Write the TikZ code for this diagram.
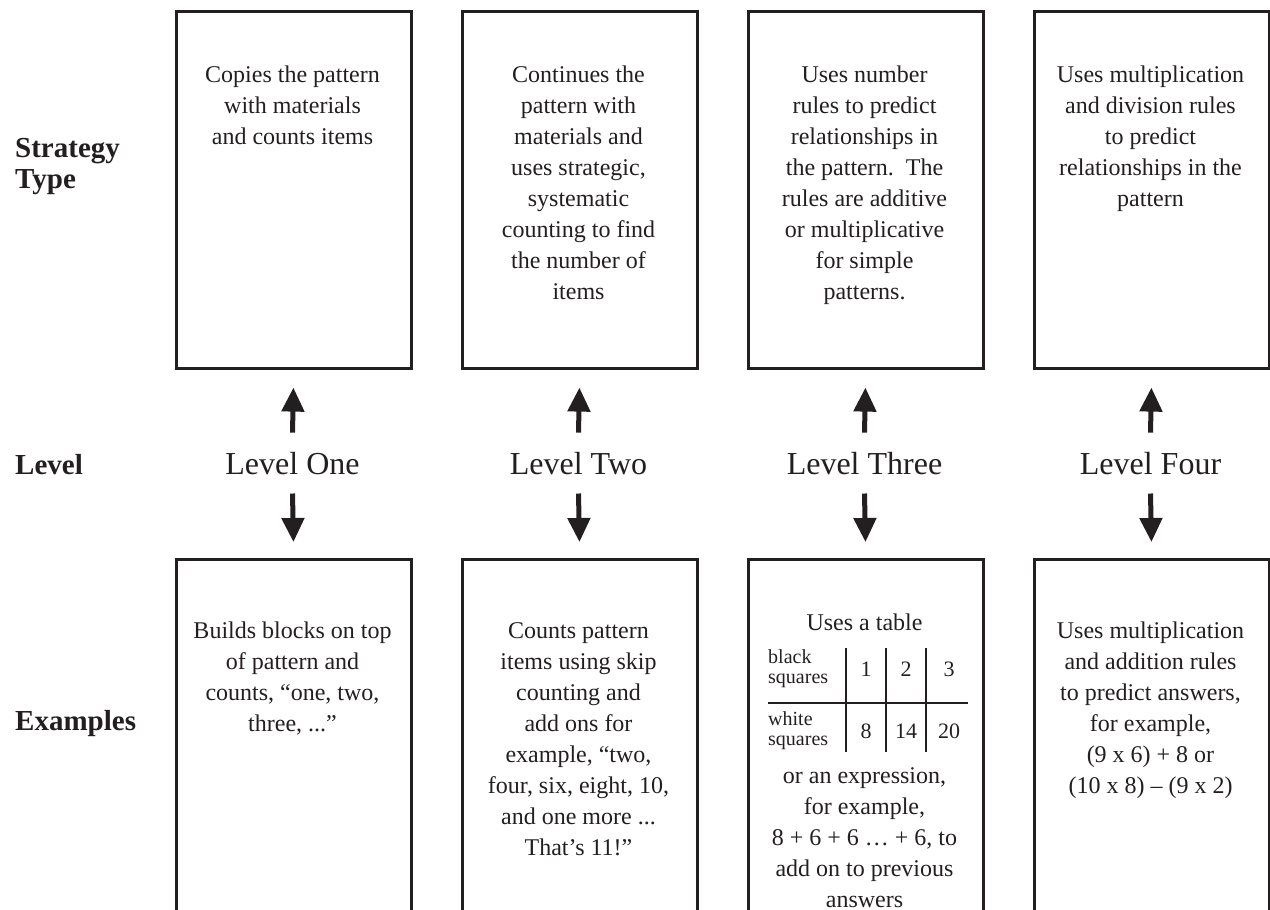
\documentclass[tikz,border=0pt]{standalone}
\usepackage{fontspec}
\setmainfont{Liberation Serif}
\usetikzlibrary{arrows.meta}
\definecolor{ink}{HTML}{231F20}
\begin{document}
\begin{tikzpicture}[x=1pt,y=-1pt,
  card/.style={draw=ink, line width=2.6pt, minimum width=235pt, inner sep=0pt, anchor=north west},
  topcard/.style={card, minimum height=357pt},
  botcard/.style={card, minimum height=400pt},
  body/.style={text=ink, align=center, anchor=base, inner sep=0pt, font=\fontsize{24}{31}\selectfont},
  lvltext/.style={text=ink, anchor=base, inner sep=0pt, font=\fontsize{32}{38}\selectfont},
  head/.style={text=ink, anchor=base west, align=left, inner sep=0pt, font=\bfseries\fontsize{29}{31}\selectfont},
  small/.style={text=ink, anchor=base west, align=left, inner sep=0pt, font=\fontsize{20}{20}\selectfont},
  num/.style={text=ink, anchor=base, inner sep=0pt, font=\fontsize{22}{26}\selectfont},
  arr/.style={draw=ink, line width=5pt, -{Triangle[width=22pt,length=24pt]}},
  rule/.style={draw=ink, line width=1.2pt}
]
\useasboundingbox (0,0) rectangle (1270,910);
\clip (0,0) rectangle (1270,910);

% row headings (base anchor = baseline of last line)
\node[head] (hStrategy) at (15,188) {Strategy\\Type};
\node[head] (hLevel) at (15,474) {Level};
\node[head] (hExamples) at (15,730) {Examples};

% top boxes
\node[topcard] (top1) at (175,10) {};
\node[topcard] (top2) at (461,10) {};
\node[topcard] (top3) at (747,10) {};
\node[topcard] (top4) at (1033,10) {};

\node[body] (tt1) at (292.5,144) {Copies the pattern\\with materials\\and counts items};
\node[body] (tt2) at (578.5,299) {Continues the\\pattern with\\materials and\\uses strategic,\\systematic\\counting to find\\the number of\\items};
\node[body] (tt3) at (864.5,299) {Uses number\\rules to predict\\relationships in\\the pattern.\ \ The\\rules are additive\\or multiplicative\\for simple\\patterns.};
\node[body] (tt4) at (1150.5,206) {Uses multiplication\\and division rules\\to predict\\relationships in the\\pattern};

% levels
\node[lvltext] (lvl1) at (292.5,474) {Level One};
\node[lvltext] (lvl2) at (578.5,474) {Level Two};
\node[lvltext] (lvl3) at (864.5,474) {Level Three};
\node[lvltext] (lvl4) at (1150.5,474) {Level Four};

% bottom boxes
\node[botcard] (bot1) at (175,558) {};
\node[botcard] (bot2) at (461,558) {};
\node[botcard] (bot3) at (747,558) {};
\node[botcard] (bot4) at (1033,558) {};

% arrows
\foreach \i in {1,2,3,4}{
  \draw[arr, shorten >=18pt] ([yshift=19pt]lvl\i.north) -- (top\i.south);
  \draw[arr, shorten >=16pt] ([yshift=-19pt]lvl\i.south) -- (bot\i.north);
}

% bottom texts
\node[body] (bt1) at (292.5,731) {Builds blocks on top\\of pattern and\\counts, “one, two,\\three, ...”};
\node[body] (bt2) at (578.5,855) {Counts pattern\\items using skip\\counting and\\add ons for\\example, “two,\\four, six, eight, 10,\\and one more ...\\That’s 11!”};
\node[body] (bt4) at (1150.5,793) {Uses multiplication\\and addition rules\\to predict answers,\\for example,\\(9 x 6) + 8 or\\(10 x 8) – (9 x 2)};

% level three example with table
\node[body] (bt3a) at (864.5,630) {Uses a table};
\node[small] (tb1) at (768,683) {black\\squares};
\node[small] (tb2) at (768,745) {white\\squares};
\node[num] (n11) at (866,676) {1};
\node[num] (n12) at (906,676) {2};
\node[num] (n13) at (949,676) {3};
\node[num] (n21) at (866,738) {8};
\node[num] (n22) at (906,738) {14};
\node[num] (n23) at (949,738) {20};
\draw[rule] (768,703) -- (968,703);
\foreach \x in {846,886,926}{
  \draw[rule] (\x,648) -- (\x,752);
}
\node[body] (bt3b) at (864.5,907) {or an expression,\\for example,\\8 + 6 + 6 … + 6, to\\add on to previous\\answers};
\end{tikzpicture}
\end{document}
